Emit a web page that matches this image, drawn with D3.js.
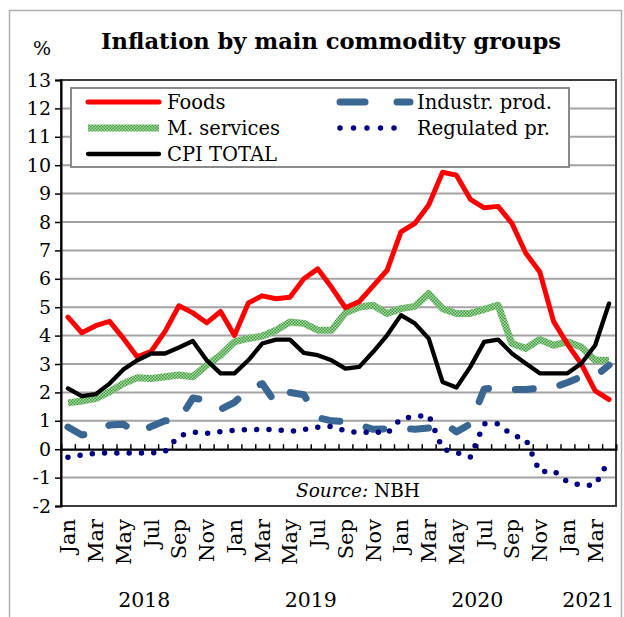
<!DOCTYPE html>
<html>
<head>
<meta charset="utf-8">
<script src="https://cdn.jsdelivr.net/npm/d3@7"></script>
<style>
  html, body { margin: 0; padding: 0; background: #fff; }
  svg { display: block; }
  text { font-family: "DejaVu Serif", serif; fill: #000; }
</style>
</head>
<body>
<svg id="chart" width="624" height="617"></svg>
<script>
// Monthly year-on-year inflation, Jan 2018 – Apr 2021 (%)
const months = [
  "Jan","Feb","Mar","Apr","May","Jun","Jul","Aug","Sep","Oct","Nov","Dec",
  "Jan","Feb","Mar","Apr","May","Jun","Jul","Aug","Sep","Oct","Nov","Dec",
  "Jan","Feb","Mar","Apr","May","Jun","Jul","Aug","Sep","Oct","Nov","Dec",
  "Jan","Feb","Mar","Apr"
];
const years = ["2018","2019","2020","2021"];

const foods = [4.65,4.1,4.35,4.5,3.9,3.25,3.45,4.15,5.05,4.8,4.45,4.85,
               4.0,5.15,5.4,5.3,5.35,6.0,6.35,5.7,4.98,5.2,5.75,6.3,
               7.65,7.95,8.6,9.75,9.65,8.8,8.5,8.55,7.95,6.9,6.25,4.5,
               3.7,3.0,2.05,1.75];
const industrial = [0.78,0.5,0.6,0.85,0.88,0.55,0.8,1.0,1.02,1.8,1.73,1.4,
                    1.65,2.09,2.31,1.6,2.0,1.92,1.11,1.0,0.97,0.85,0.7,0.72,
                    0.75,0.7,0.75,0.95,0.61,0.89,2.12,2.17,2.1,2.1,2.15,2.17,
                    2.35,2.55,2.57,2.96];
const services = [1.63,1.7,1.78,2.02,2.31,2.52,2.49,2.55,2.61,2.55,2.96,3.31,
                  3.78,3.9,3.98,4.19,4.48,4.43,4.19,4.19,4.8,5.01,5.07,4.78,
                  4.95,5.03,5.48,4.95,4.78,4.78,4.92,5.07,3.72,3.55,3.86,3.66,
                  3.78,3.6,3.13,3.13];
const regulated = [-0.28,-0.2,-0.15,-0.13,-0.13,-0.13,-0.13,-0.08,0.47,0.6,0.56,0.62,
                   0.67,0.69,0.69,0.69,0.63,0.69,0.77,0.8,0.65,0.58,0.62,0.55,
                   1.08,1.14,1.2,0.0,-0.12,-0.28,0.9,0.9,0.5,0.35,-0.8,-0.75,
                   -1.15,-1.27,-1.27,-0.38];
const cpi = [2.14,1.87,1.94,2.31,2.81,3.13,3.37,3.37,3.58,3.81,3.13,2.67,
             2.67,3.13,3.72,3.86,3.86,3.39,3.31,3.13,2.84,2.9,3.43,4.01,
             4.72,4.43,3.9,2.37,2.17,2.9,3.78,3.86,3.37,3.02,2.67,2.67,
             2.67,3.02,3.66,5.13];
const yTicks = d3.range(-2, 14);

const series = [
  { name: "M. services",    values: services,   cls: "services" },
  { name: "Industr. prod.", values: industrial, cls: "industrial" },
  { name: "Regulated pr.",  values: regulated,  cls: "regulated" },
  { name: "Foods",          values: foods,      cls: "foods" },
  { name: "CPI TOTAL",      values: cpi,        cls: "cpi" }
];

const styles = {
  foods:      { stroke: "#ff0000", width: 5, dash: null, cap: "round" },
  services:   { stroke: "url(#greenTexture)", width: 7, dash: null, cap: "butt" },
  cpi:        { stroke: "#000000", width: 4.3, dash: null, cap: "round" },
  industrial: { stroke: "#3a6694", width: 7, dash: "18,27", cap: "round" },
  regulated:  { stroke: "#000080", width: 5.5, dash: "0,12.3", cap: "round" }
};

const svg = d3.select("#chart");
const plot = { left: 61, right: 616, top: 80, bottom: 506 };

// Textured green stroke for market services
const defs = svg.append("defs");
const pat = defs.append("pattern")
  .attr("id", "greenTexture")
  .attr("patternUnits", "userSpaceOnUse")
  .attr("width", 3).attr("height", 3);
pat.append("rect").attr("width", 3).attr("height", 3).attr("fill", "#b0dcaa");
pat.append("rect").attr("width", 1.5).attr("height", 1.5).attr("fill", "#3c9a3c");
pat.append("rect").attr("x", 1.5).attr("y", 1.5).attr("width", 1.5).attr("height", 1.5).attr("fill", "#3c9a3c");

// Outer frame
svg.append("rect")
  .attr("x", 9.5).attr("y", 10.5)
  .attr("width", 612).attr("height", 620)
  .attr("fill", "none").attr("stroke", "#b0b0b0").attr("stroke-width", 1.5);

// Title and unit
svg.append("text")
  .attr("x", 331).attr("y", 49)
  .attr("text-anchor", "middle")
  .style("font-weight", "bold").style("font-size", "22.6px")
  .text("Inflation by main commodity groups");
svg.append("text")
  .attr("x", 42).attr("y", 55)
  .attr("text-anchor", "middle")
  .style("font-size", "19px")
  .text("%");

// Scales
const xb = d3.scaleLinear().domain([0, months.length]).range([plot.left, plot.right]);
const xc = i => xb(i + 0.5);
const y = d3.scaleLinear().domain([-2, 13]).range([plot.bottom, plot.top]);

// Horizontal gridlines
svg.append("g").selectAll("line")
  .data(yTicks.filter(v => v > -2 && v < 13))
  .join("line")
  .attr("x1", plot.left).attr("x2", plot.right)
  .attr("y1", d => y(d)).attr("y2", d => y(d))
  .attr("stroke", "#a3a3a3").attr("stroke-width", 2);

// Plot border
svg.append("rect")
  .attr("x", plot.left).attr("y", plot.top)
  .attr("width", plot.right - plot.left).attr("height", plot.bottom - plot.top)
  .attr("fill", "none").attr("stroke", "#3c3c3c").attr("stroke-width", 2);

// Y axis
const yAxis = svg.append("g")
  .attr("transform", `translate(${plot.left},0)`)
  .call(d3.axisLeft(y).tickValues(yTicks).tickSize(6).tickPadding(4).tickFormat(d => String(d)));
yAxis.select(".domain").attr("stroke", "#000").attr("stroke-width", 2);
yAxis.selectAll(".tick line").attr("stroke", "#000").attr("stroke-width", 1.5);
yAxis.selectAll(".tick text")
  .style("font-family", "DejaVu Serif, serif").style("font-size", "19px").attr("fill", "#000");

// Category axis along zero
const xAxis = svg.append("g")
  .attr("transform", `translate(0,${y(0)})`)
  .call(d3.axisBottom(xb).tickValues(d3.range(1, months.length)).tickSize(-5).tickFormat(""));
xAxis.select(".domain").attr("stroke", "#000").attr("stroke-width", 2);
xAxis.selectAll(".tick line").attr("stroke", "#000").attr("stroke-width", 1.5);

// Month labels (every second month), rotated
svg.append("g").selectAll("text")
  .data(months.map((m, i) => ({ m, i })).filter(d => d.i % 2 === 0))
  .join("text")
  .attr("transform", d => `translate(${xc(d.i) + 7.5},519) rotate(-90)`)
  .attr("text-anchor", "end")
  .style("font-size", "21px")
  .text(d => d.m);

// Year labels centred under their months
svg.append("g").selectAll("text")
  .data(years.map((yr, k) => {
    const idx = d3.range(months.length).filter(i => Math.floor(i / 12) === k);
    return { yr, x: (xc(idx[0]) + xc(idx[idx.length - 1])) / 2 };
  }))
  .join("text")
  .attr("x", d => d.x).attr("y", 607)
  .attr("text-anchor", "middle")
  .style("font-size", "20.5px")
  .text(d => d.yr);

// Source note
const src = svg.append("text")
  .attr("x", 358).attr("y", 497)
  .attr("text-anchor", "middle")
  .style("font-size", "18.5px");
src.append("tspan").style("font-style", "italic").text("Source:");
src.append("tspan").text(" NBH");

// Series lines
const line = d3.line().x((d, i) => xc(i)).y(d => y(d));
svg.append("g").selectAll("path")
  .data(series)
  .join("path")
  .attr("d", d => line(d.values))
  .attr("fill", "none")
  .attr("stroke", d => styles[d.cls].stroke)
  .attr("stroke-width", d => styles[d.cls].width)
  .attr("stroke-dasharray", d => styles[d.cls].dash)
  .attr("stroke-linecap", d => styles[d.cls].cap)
  .attr("stroke-linejoin", "round");

// Legend
const legend = svg.append("g");
legend.append("rect")
  .attr("x", 71).attr("y", 88).attr("width", 498).attr("height", 79)
  .attr("fill", "#fff").attr("stroke", "#8a8a8a").attr("stroke-width", 2);

const legendItems = [
  { cls: "foods",      label: "Foods",          x: 88,  y: 102 },
  { cls: "services",   label: "M. services",    x: 88,  y: 128 },
  { cls: "cpi",        label: "CPI TOTAL",      x: 88,  y: 154 },
  { cls: "industrial", label: "Industr. prod.", x: 340, y: 102 },
  { cls: "regulated",  label: "Regulated pr.",  x: 340, y: 128 }
];
const legendDash = { industrial: "25,32", regulated: "0,13.5" };
const li = legend.selectAll("g.item").data(legendItems).join("g").attr("class", "item");
li.append("line")
  .attr("x1", d => d.x).attr("x2", d => d.cls === "industrial" ? 410 : (d.cls === "regulated" ? 405 : 159))
  .attr("y1", d => d.y).attr("y2", d => d.y)
  .attr("stroke", d => styles[d.cls].stroke)
  .attr("stroke-width", d => styles[d.cls].width)
  .attr("stroke-dasharray", d => legendDash[d.cls] || null)
  .attr("stroke-linecap", d => d.cls === "services" ? "butt" : "round");
li.append("text")
  .attr("x", d => d.cls === "industrial" || d.cls === "regulated" ? 417 : 167)
  .attr("y", d => d.y + 7)
  .style("font-size", "19.5px")
  .text(d => d.label);
</script>
</body>
</html>
